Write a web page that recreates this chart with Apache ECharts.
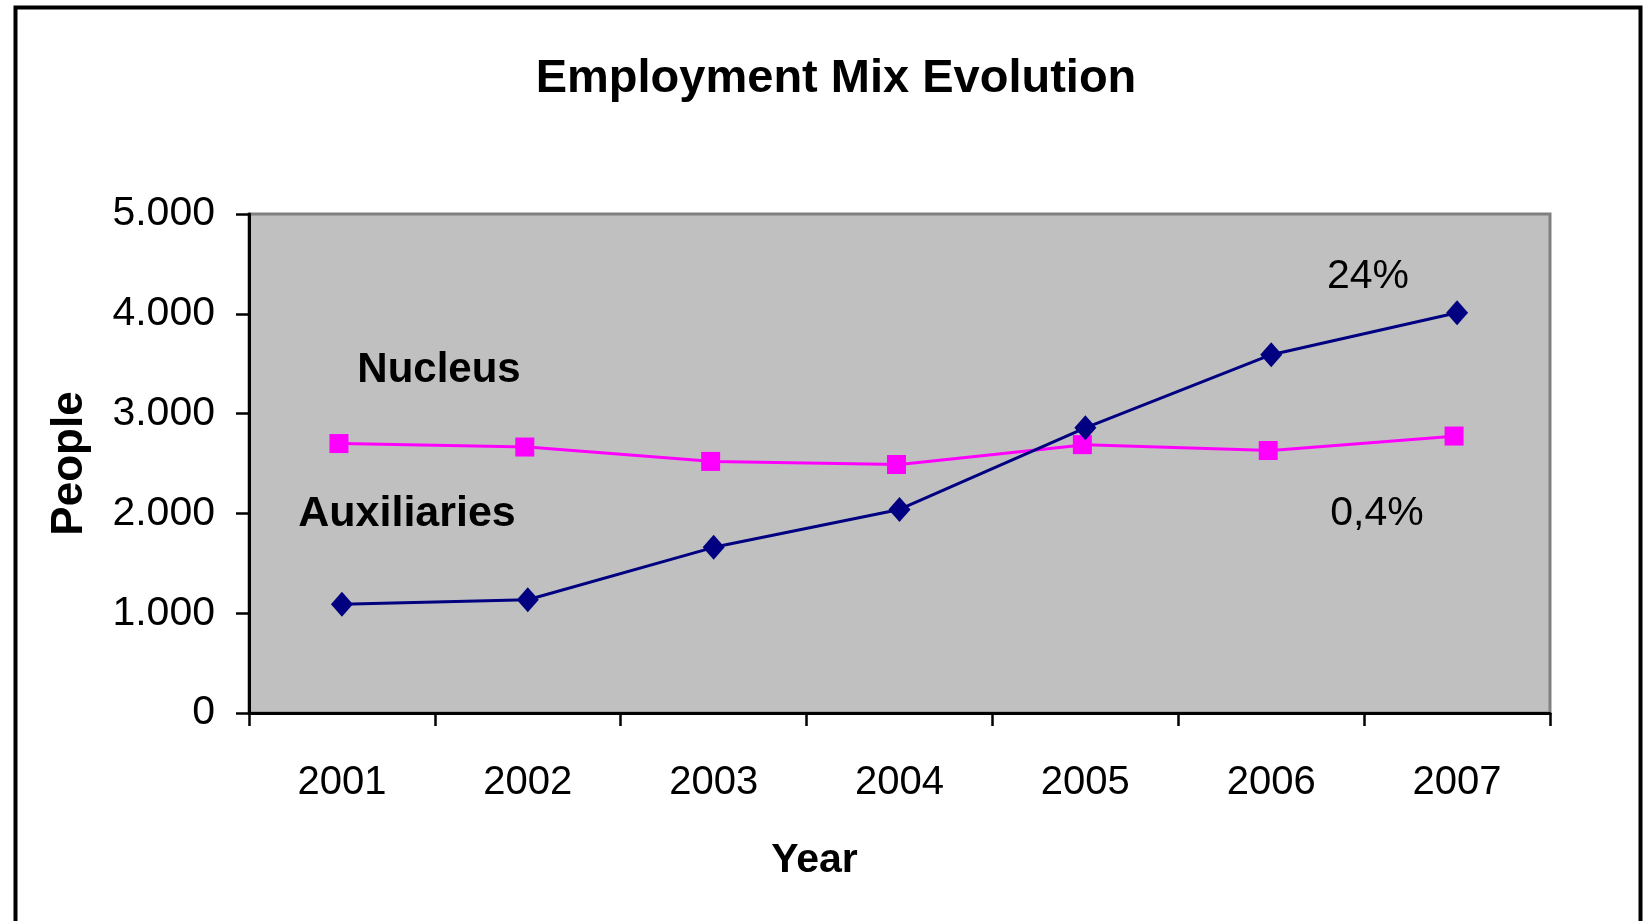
<!DOCTYPE html>
<html>
<head>
<meta charset="utf-8">
<script src="https://cdn.jsdelivr.net/npm/echarts@6/dist/echarts.min.js"></script>
<style>
html,body{margin:0;padding:0;background:#fff;}
#chart{width:1643px;height:921px;}
</style>
</head>
<body>
<div id="chart"></div>
<script>
const years = ['2001','2002','2003','2004','2005','2006','2007'];
const auxiliaries = [1090, 1135, 1660, 2040, 2857, 3590, 4010];
const nucleus = [2700, 2665, 2521, 2490, 2689, 2630, 2775];
const yTicks = [0, 1000, 2000, 3000, 4000, 5000];

const FONT = '"Liberation Sans", Arial, sans-serif';
const chart = echarts.init(document.getElementById('chart'));
const fmt = v => v >= 1000 ? Math.floor(v/1000) + '.' + String(v%1000).padStart(3,'0') : String(v);

chart.setOption({
  backgroundColor: '#ffffff',
  animation: false,
  title: {
    text: 'Employment Mix Evolution',
    left: 831, top: 51, textAlign: 'center',
    textStyle: {fontFamily: FONT, fontWeight: 'bold', fontSize: 47, lineHeight: 47, color: '#000'}
  },
  grid: {
    left: 249, right: 93, top: 214, bottom: 208,
    show: true, backgroundColor: '#c0c0c0', borderColor: '#808080', borderWidth: 3
  },
  xAxis: {
    type: 'category', data: years, boundaryGap: true,
    name: 'Year', nameLocation: 'middle', nameGap: 127,
    nameTextStyle: {fontFamily: FONT, fontWeight: 'bold', fontSize: 41, lineHeight: 41, color: '#000', padding: [0, 170, 0, 0]},
    axisLine: {lineStyle: {color: '#000', width: 3}},
    axisTick: {show: true, length: 13, lineStyle: {color: '#000', width: 2.5}},
    axisLabel: {fontFamily: FONT, fontSize: 40, lineHeight: 40, color: '#000', margin: 50},
    splitLine: {show: false}
  },
  yAxis: {
    type: 'value', min: yTicks[0], max: yTicks[yTicks.length-1], interval: 1000,
    name: 'People', nameLocation: 'middle', nameGap: 157,
    nameTextStyle: {fontFamily: FONT, fontWeight: 'bold', fontSize: 44, lineHeight: 44, color: '#000'},
    axisLine: {show: true, lineStyle: {color: '#000', width: 3}},
    axisTick: {show: true, length: 13, lineStyle: {color: '#000', width: 2.5}},
    axisLabel: {fontFamily: FONT, fontSize: 41, color: '#000', margin: 34, padding: [6, 0, 0, 0], formatter: fmt},
    splitLine: {show: false}
  },
  series: [
    {
      name: 'Nucleus', type: 'line', data: nucleus,
      symbol: 'rect', symbolSize: 19, symbolOffset: [-3, 0],
      lineStyle: {color: '#ff00ff', width: 3},
      itemStyle: {color: '#ff00ff'}
    },
    {
      name: 'Auxiliaries', type: 'line', data: auxiliaries,
      symbol: 'diamond', symbolSize: [22, 25],
      lineStyle: {color: '#000080', width: 3},
      itemStyle: {color: '#000080'}
    }
  ],
  graphic: [
    {type: 'rect', left: 13, top: 5, z: 100, silent: true,
     shape: {x: 0, y: 0, width: 1625, height: 1000},
     style: {fill: 'none', stroke: '#000', lineWidth: 4}},
    {type: 'text', x: 439, y: 370, z: 50,
     style: {text: 'Nucleus', font: 'bold 42px ' + FONT, fill: '#000', align: 'center', verticalAlign: 'middle'}},
    {type: 'text', x: 407, y: 514, z: 50,
     style: {text: 'Auxiliaries', font: 'bold 43px ' + FONT, fill: '#000', align: 'center', verticalAlign: 'middle'}},
    {type: 'text', x: 1368, y: 277, z: 50,
     style: {text: '24%', font: '41px ' + FONT, fill: '#000', align: 'center', verticalAlign: 'middle'}},
    {type: 'text', x: 1377, y: 514, z: 50,
     style: {text: '0,4%', font: '41px ' + FONT, fill: '#000', align: 'center', verticalAlign: 'middle'}}
  ]
});
</script>
</body>
</html>
